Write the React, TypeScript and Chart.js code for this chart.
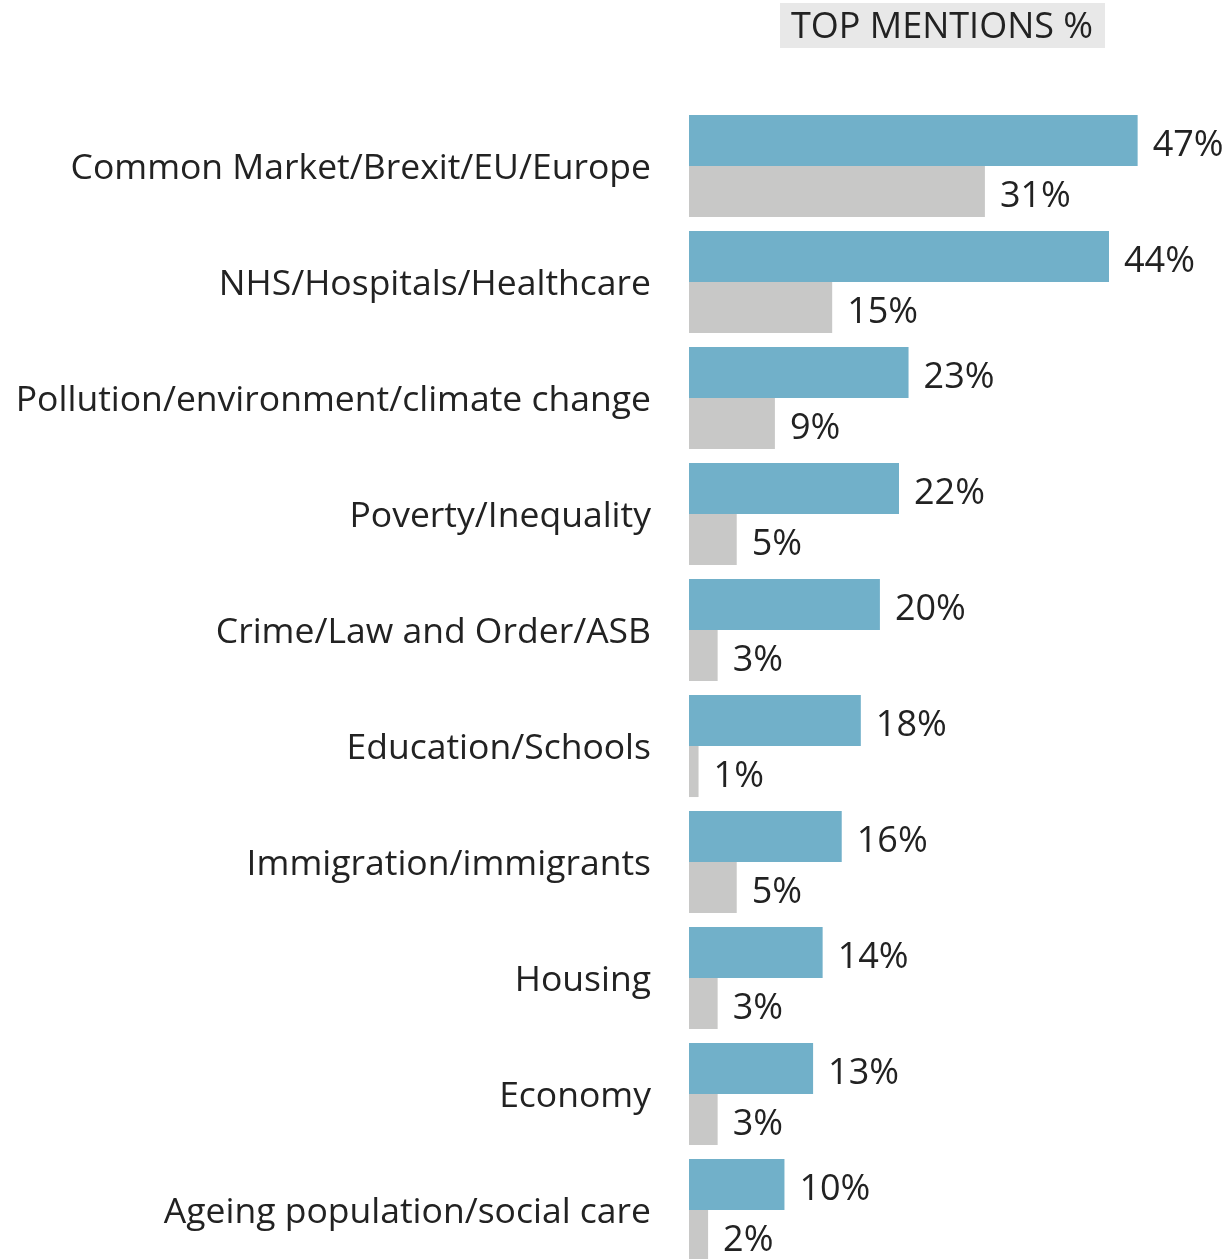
import React, { useEffect, useRef } from "react";
import { Chart, registerables } from "chart.js";

Chart.register(...registerables);

const categories = [
  "Common Market/Brexit/EU/Europe",
  "NHS/Hospitals/Healthcare",
  "Pollution/environment/climate change",
  "Poverty/Inequality",
  "Crime/Law and Order/ASB",
  "Education/Schools",
  "Immigration/immigrants",
  "Housing",
  "Economy",
  "Ageing population/social care",
];
const seriesTop = [47, 44, 23, 22, 20, 18, 16, 14, 13, 10];
const seriesSecond = [31, 15, 9, 5, 3, 1, 5, 3, 3, 2];
const titleText = "TOP MENTIONS %";

const FONT = "'Open Sans', 'Noto Sans', sans-serif";

const labelPlugin = {
  id: "valueLabels",
  afterDatasetsDraw(chart: any) {
    const ctx = chart.ctx;
    ctx.save();
    ctx.font = `36px ${FONT}`;
    ctx.fillStyle = "#222222";
    ctx.textAlign = "left";
    ctx.textBaseline = "middle";
    chart.data.datasets.forEach((ds: any, di: number) => {
      const meta = chart.getDatasetMeta(di);
      meta.data.forEach((el: any, i: number) => {
        ctx.fillText(ds.data[i] + "%", el.x + 15, el.y + 5);
      });
    });
    ctx.restore();
  },
};

const titlePlugin = {
  id: "boxTitle",
  afterDraw(chart: any) {
    const ctx = chart.ctx;
    ctx.save();
    ctx.fillStyle = "#e8e8e8";
    ctx.fillRect(780, 3, 325, 45);
    ctx.font = `36px ${FONT}`;
    ctx.fillStyle = "#222222";
    ctx.textAlign = "center";
    ctx.textBaseline = "middle";
    ctx.fillText(titleText, 942, 28);
    ctx.restore();
  },
};

export default function App() {
  const ref = useRef<HTMLCanvasElement | null>(null);
  useEffect(() => {
    document.body.style.margin = "0";
    document.body.style.overflow = "hidden";
    const chart = new Chart(ref.current!, {
      type: "bar",
      data: {
        labels: categories,
        datasets: [
          {
            data: seriesTop,
            backgroundColor: "#71b0c9",
            borderWidth: 0,
            barPercentage: 1,
            categoryPercentage: 0.88,
          },
          {
            data: seriesSecond,
            backgroundColor: "#c8c8c7",
            borderWidth: 0,
            barPercentage: 1,
            categoryPercentage: 0.88,
          },
        ],
      },
      options: {
        indexAxis: "y",
        animation: false,
        responsive: false,
        layout: { padding: { top: 108, right: 16, bottom: 64, left: 0 } },
        plugins: { legend: { display: false }, tooltip: { enabled: false } },
        scales: {
          x: { min: 0, max: 55, display: false },
          y: {
            grid: { display: false },
            border: { display: false },
            ticks: {
              padding: 30,
              labelOffset: 3,
              color: "#222222",
              font: { family: FONT, size: 35.5 },
            },
            afterFit(scale: any) {
              scale.width = 689;
            },
          },
        },
      },
      plugins: [labelPlugin, titlePlugin],
    });
    return () => chart.destroy();
  }, []);
  return (
    <div style={{ width: 1230, height: 1259, overflow: "hidden", background: "#fff" }}>
      <canvas ref={ref} width={1230} height={1332} style={{ display: "block" }} />
    </div>
  );
}
